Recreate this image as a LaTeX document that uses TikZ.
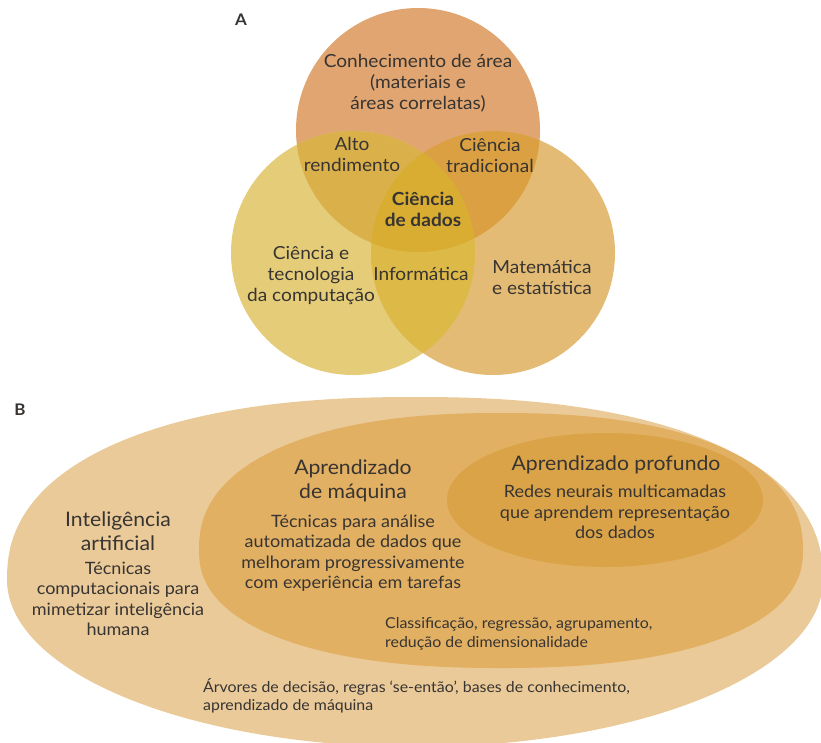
\documentclass[tikz,border=0pt]{standalone}
\usepackage{fontspec}
\setmainfont{Lato}[FakeStretch=1.06]
\definecolor{txt}{RGB}{55,52,50}
\definecolor{vTop}{RGB}{224,165,112}
\definecolor{vLeft}{RGB}{228,204,120}
\definecolor{vRight}{RGB}{227,187,116}
\definecolor{vTL}{RGB}{218,176,74}
\definecolor{vTR}{RGB}{218,160,65}
\definecolor{vLR}{RGB}{221,185,72}
\definecolor{vC}{RGB}{216,173,50}
\definecolor{outerB}{RGB}{234,202,153}
\definecolor{mlB}{RGB}{226,176,99}
\definecolor{dlB}{RGB}{218,163,72}
\tikzset{
  lbl/.style={inner sep=0pt, align=center, text=txt, font=\fontsize{18}{21}\selectfont},
  ttl/.style={inner sep=0pt, align=center, text=txt, font=\fontsize{20}{24}\selectfont},
  body/.style={inner sep=0pt, align=center, text=txt, font=\fontsize{17}{20.5}\selectfont},
  small/.style={inner sep=0pt, align=left, text=txt, font=\fontsize{15}{18.5}\selectfont},
  panel/.style={inner sep=0pt, text=txt, font=\fontsize{16}{18}\selectfont\bfseries},
}
\begin{document}
\begin{tikzpicture}[x=1pt,y=-1pt]
\useasboundingbox (0,0) rectangle (821,742);
\clip (0,0) rectangle (821,742);
% ---------- Panel A : Venn ----------
\coordinate (cT) at (418,130);
\coordinate (cL) at (353,253);
\coordinate (cR) at (493,253);
\fill[vTop] (cT) circle[radius=122pt];
\fill[vLeft] (cL) circle[radius=122pt];
\fill[vRight] (cR) circle[radius=122pt];
\begin{scope}
  \clip (cT) circle[radius=122pt];
  \fill[vTL] (cL) circle[radius=122pt];
\end{scope}
\begin{scope}
  \clip (cT) circle[radius=122pt];
  \fill[vTR] (cR) circle[radius=122pt];
\end{scope}
\begin{scope}
  \clip (cL) circle[radius=122pt];
  \fill[vLR] (cR) circle[radius=122pt];
\end{scope}
\begin{scope}
  \clip (cT) circle[radius=122pt];
  \clip (cL) circle[radius=122pt];
  \fill[vC] (cR) circle[radius=122pt];
\end{scope}
\node[panel] (A) at (241,20) {A};
\node[lbl] (area) at (418,83) {Conhecimento de área\\(materiais e\\áreas correlatas)};
\node[lbl] (alto) at (352,154) {Alto\\rendimento};
\node[lbl] (trad) at (490,156) {Ciência\\tradicional};
\node[lbl, font=\fontsize{18}{21}\selectfont\bfseries] (cd) at (423,209) {Ciência\\de dados};
\node[lbl] (cc) at (311,276) {Ciência e\\tecnologia\\da computação};
\node[lbl] (inf) at (421,274) {Informática};
\node[lbl] (mat) at (542,277) {Matemática\\e estatística};
% ---------- Panel B : nested ellipses ----------
\node[panel] (B) at (20,410) {B};
% outer (Inteligencia artificial): fuller upper half, elliptic lower half
\fill[outerB] (823,580)
  -- plot[domain=0.5:179.5, samples=120, variable=\t]
    ({415+408*cos(\t)*pow(abs(cos(\t)),-0.13)}, {580-183*pow(sin(\t),0.87)})
  -- (7,580)
  -- plot[domain=180.5:359.5, samples=120, variable=\t]
    ({415+408*cos(\t)}, {580-167*sin(\t)})
  -- cycle;
% machine learning
\fill[mlB] (803,550)
  -- plot[domain=0.5:179.5, samples=120, variable=\t]
    ({501+302*cos(\t)*pow(abs(cos(\t)),-0.13)}, {550-137*pow(sin(\t),0.87)})
  -- (199,550)
  -- plot[domain=180.5:359.5, samples=120, variable=\t]
    ({501+302*cos(\t)*pow(abs(cos(\t)),-0.13)}, {550+118*pow(abs(sin(\t)),0.87)})
  -- cycle;
% deep learning
\fill[dlB] (605,500) ellipse[x radius=158pt, y radius=67pt];
\node[ttl] (ia) at (118,531) {Inteligência\\artificial};
\node[body] (iab) at (118,599) {Técnicas\\computacionais para\\mimetizar inteligência\\humana};
\node[ttl] (ml) at (353,481) {Aprendizado\\de máquina};
\node[body] (mlb) at (353,553) {Técnicas para análise\\automatizada de dados que\\melhoram progressivamente\\com experiência em tarefas};
\node[ttl] (dl) at (616,465) {Aprendizado profundo};
\node[body] (dlb) at (615,512) {Redes neurais multicamadas\\que aprendem representação\\dos dados};
\node[small, anchor=west] (mlex) at (385,634) {Classificação, regressão, agrupamento,\\redução de dimensionalidade};
\node[small, anchor=west] (iaex) at (203,696) {Árvores de decisão, regras ‘se-então’, bases de conhecimento,\\aprendizado de máquina};
\end{tikzpicture}
\end{document}
